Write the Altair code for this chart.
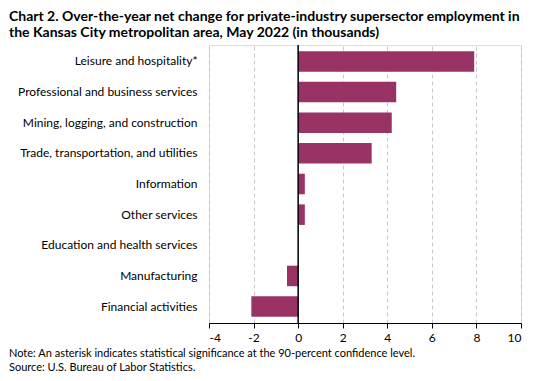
import altair as alt
import pandas as pd

categories = [
    "Leisure and hospitality*",
    "Professional and business services",
    "Mining, logging, and construction",
    "Trade, transportation, and utilities",
    "Information",
    "Other services",
    "Education and health services",
    "Manufacturing",
    "Financial activities",
]
values = [7.9, 4.4, 4.2, 3.3, 0.3, 0.3, 0.0, -0.5, -2.1]
x_ticks = [-4, -2, 0, 2, 4, 6, 8, 10]

df = pd.DataFrame({"category": categories, "value": values})

FONT = "Lato"
BAR = "#993366"

base = alt.Chart(df)

bars = base.mark_bar(color=BAR).encode(
    y=alt.Y(
        "category:N",
        sort=categories,
        scale=alt.Scale(paddingInner=0.33, paddingOuter=0.2),
        axis=alt.Axis(
            title=None, domain=False, ticks=False, labelPadding=12,
            labelFont=FONT, labelFontSize=12, labelColor="#000000",
            labelLimit=300,
        ),
    ),
    x=alt.X(
        "value:Q",
        scale=alt.Scale(domain=[-4, 10], nice=False),
        axis=alt.Axis(
            title=None, values=x_ticks, grid=True, gridDash=[4, 3],
            gridColor="#c8c8c8", domainColor="#000000", tickColor="#000000",
            tickSize=5, labelFont=FONT, labelFontSize=12,
            labelColor="#000000", labelPadding=4,
            labelExpr="datum.value",
        ),
    ),
)

zero = alt.Chart(pd.DataFrame({"z": [0]})).mark_rule(
    color="#000000", strokeWidth=1.5
).encode(x=alt.X("z:Q"))

note = alt.Chart(pd.DataFrame({"t": [
    "Note: An asterisk indicates statistical significance at the 90-percent confidence level."
]})).mark_text(
    align="left", baseline="middle", font=FONT, fontSize=11, color="#000000"
).encode(text="t:N", x=alt.value(-200), y=alt.value(309))

source = alt.Chart(pd.DataFrame({"t": [
    "Source: U.S. Bureau of Labor Statistics."
]})).mark_text(
    align="left", baseline="middle", font=FONT, fontSize=11, color="#000000"
).encode(text="t:N", x=alt.value(-200), y=alt.value(323))

chart = alt.layer(bars, zero, note, source).properties(
    width=312,
    height=278,
    padding={"left": 201, "top": 37, "right": 7, "bottom": 49},
    autosize=alt.AutoSizeParams(type="none"),
    title=alt.TitleParams(
        text=[
            "Chart 2. Over-the-year net change for private-industry supersector employment in",
            "the Kansas City metropolitan area, May 2022  (in thousands)",
        ],
        anchor="start",
        frame="group",
        dx=-200,
        offset=4,
        font=FONT,
        fontSize=14,
        fontWeight="bold",
        color="#000000",
        lineHeight=16,
    ),
).configure_view(stroke=None).configure(background="#ffffff")

chart.save("out.html", embed_options={"renderer": "svg", "actions": False})
